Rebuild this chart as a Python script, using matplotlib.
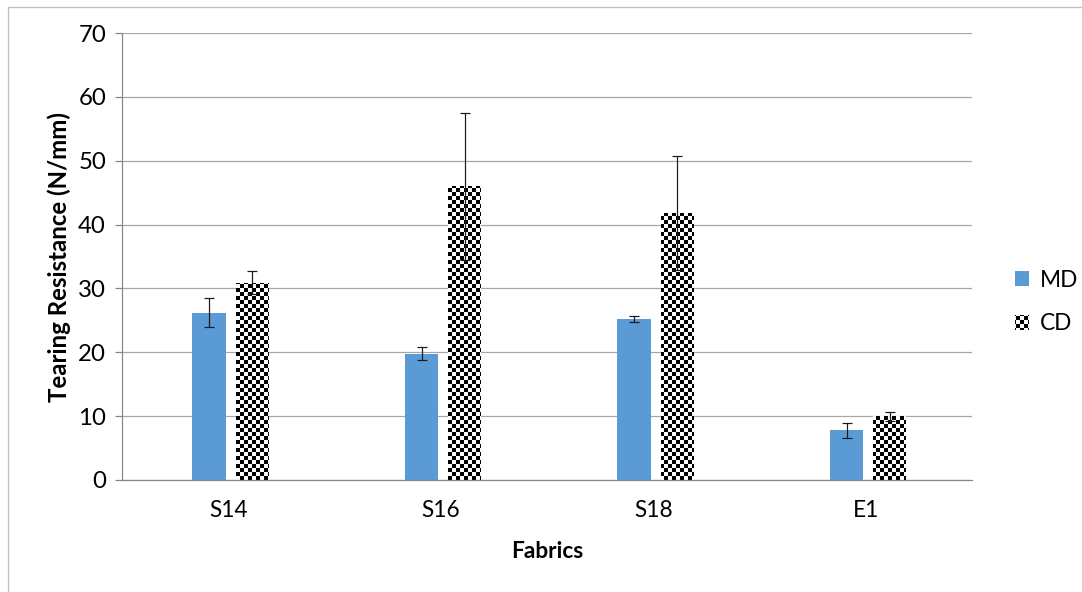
import warnings
warnings.filterwarnings("ignore")
import numpy as np
import matplotlib
matplotlib.use("Agg")
import matplotlib.pyplot as plt
from matplotlib import hatch as mhatch
from matplotlib.path import Path
from matplotlib.patches import Patch, Rectangle

# ---------------- data ----------------
categories = ["S14", "S16", "S18", "E1"]
md_values = [26.2, 19.8, 25.2, 7.8]
md_errors = [2.3, 1.0, 0.5, 1.2]
cd_values = [30.9, 46.0, 41.8, 10.0]
cd_errors = [1.8, 11.5, 8.9, 0.7]
series_names = ["MD", "CD"]
y_ticks = [0, 10, 20, 30, 40, 50, 60, 70]
x_label = "Fabrics"
y_label = "Tearing Resistance (N/mm)"

# ---------------- checkerboard hatch ----------------
class CheckerHatch(mhatch.HatchPatternBase):
    N = 24  # 24 squares per 96px hatch tile -> 4px squares

    def __init__(self, hatch, density):
        on = hatch.count('c') > 0
        self.cells = ([(i, j) for i in range(self.N) for j in range(self.N)
                       if (i + j) % 2 == 0] if on else [])
        self.num_vertices = len(self.cells) * 5

    def set_vertices_and_codes(self, vertices, codes):
        s = 1.0 / self.N
        k = 0
        for i, j in self.cells:
            x0, y0 = i * s, j * s
            vertices[k:k + 5] = [(x0, y0), (x0 + s, y0), (x0 + s, y0 + s),
                                 (x0, y0 + s), (x0, y0)]
            codes[k:k + 5] = [Path.MOVETO, Path.LINETO, Path.LINETO,
                              Path.LINETO, Path.CLOSEPOLY]
            k += 5

mhatch._hatch_types.append(CheckerHatch)

plt.rcParams['hatch.linewidth'] = 0.01
plt.rcParams['font.family'] = ['Lato', 'DejaVu Sans']

DPI = 96
W, H = 1082, 592
fig = plt.figure(figsize=(W / DPI, H / DPI), dpi=DPI)
ax = fig.add_axes([122 / W, 1 - 480 / H, 850 / W, 447 / H])

blue = "#5B9BD5"
x = np.arange(len(categories))
width = 0.157
off_md = -0.09
off_cd = 0.113

ax.bar(x + off_md, md_values, width, color=blue, zorder=2, linewidth=0)
ax.bar(x + off_cd, cd_values, width, facecolor="white", edgecolor="black",
       linewidth=0, hatch="c", zorder=2)

ekw = dict(fmt="none", ecolor="#1a1a1a", elinewidth=0.9, capsize=3.8,
           capthick=0.9, zorder=3)
ax.errorbar(x + off_md, md_values, yerr=md_errors, **ekw)
ax.errorbar(x + off_cd, cd_values, yerr=cd_errors, **ekw)

ax.set_xlim(-0.5, len(categories) - 0.5)
ax.set_ylim(0, 70)
ax.set_yticks(y_ticks)
ax.set_xticks(x)
ax.set_xticklabels(categories)
ax.yaxis.grid(True, color="#A6A6A6", linewidth=0.9, zorder=0)
ax.set_axisbelow(True)

for s in ["top", "right"]:
    ax.spines[s].set_visible(False)
ax.spines["left"].set_color("#868686")
ax.spines["bottom"].set_color("#868686")
ax.spines["left"].set_linewidth(0.9)
ax.spines["bottom"].set_linewidth(0.9)

ax.tick_params(axis="y", length=5, width=0.9, color="#868686",
               labelsize=18, pad=7, labelcolor="black")
ax.tick_params(axis="x", length=0, labelsize=17, pad=15)

ax.set_xlabel(x_label, fontsize=17, fontweight="bold", labelpad=15)
ax.set_ylabel(y_label, fontsize=18, fontweight="bold", labelpad=5)

handles = [Patch(facecolor=blue, linewidth=0),
           Patch(facecolor="white", edgecolor="black", linewidth=0, hatch="c")]
leg = fig.legend(handles, series_names, loc="center left",
                 bbox_to_anchor=(1006 / W, 1 - 302 / H), frameon=False,
                 fontsize=17, handlelength=0.6, handleheight=0.6,
                 handletextpad=0.5, labelspacing=1.0, borderaxespad=0)

# outer border (only left and top visible in the reference)
fig.add_artist(Rectangle((7.5 / W, -0.1), 2.0, 1.1 - 6.5 / H + 0.0,
                         transform=fig.transFigure, fill=False,
                         edgecolor="#BFBFBF", linewidth=1.0))

fig.savefig("out.png", dpi=DPI)
